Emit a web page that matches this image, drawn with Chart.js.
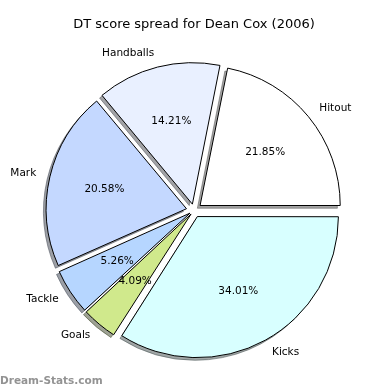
<!DOCTYPE html>
<html>
<head>
<meta charset="utf-8">
<script src="https://cdn.jsdelivr.net/npm/chart.js@4"></script>
<style>
  body { margin: 0; background: #fff; }
  #wrap { width: 390px; height: 390px; }
</style>
</head>
<body>
<div id="wrap"><canvas id="pieChart" width="390" height="390"></canvas></div>
<script>
// slices go clockwise from 3 o'clock here (the original went counter-clockwise)
let labels = ["Kicks", "Goals", "Tackle", "Mark", "Handballs", "Hitout"];
let pct = [34.01, 4.09, 5.26, 20.58, 14.21, 21.85];
let colors = ["#d8ffff", "#d0e98c", "#b6d6ff", "#c4d8ff", "#e9f0ff", "#ffffff"];

let FONT = '"DejaVu Sans", sans-serif';
let PUSH = 8;      // how far every slice is pulled out (px)
let total = pct.reduce((a, b) => a + b, 0);

// chart.js moves an arc by offset/4 * (1 + fix), so work back from the push we want
function fixOf(circ) {
  return 1 - Math.sin(Math.min(Math.PI, circ));
}
function pushOf(arc) {
  return (arc.options.offset || 0) / 4 * (1 + fixOf(arc.circumference));
}

// darker, half transparent copy of the slice colour (like the old matplotlib shadow)
function shade(hex) {
  let n = parseInt(hex.slice(1), 16);
  let r = Math.round(((n >> 16) & 255) * 0.3);
  let g = Math.round(((n >> 8) & 255) * 0.3);
  let b = Math.round((n & 255) * 0.3);
  return "rgba(" + r + "," + g + "," + b + ",0.5)";
}

// shadows go under all the slices
const shadowPlugin = {
  id: "shadows",
  beforeDatasetsDraw(chart) {
    let ctx = chart.ctx;
    let arcs = chart.getDatasetMeta(0).data;
    ctx.save();
    ctx.lineWidth = 1;
    arcs.forEach((a, i) => {
      let mid = (a.startAngle + a.endAngle) / 2;
      let d = pushOf(a);
      let x = a.x + Math.cos(mid) * d - 2.8;
      let y = a.y + Math.sin(mid) * d + 2.8;
      ctx.beginPath();
      ctx.moveTo(x, y);
      ctx.arc(x, y, a.outerRadius, a.startAngle, a.endAngle);
      ctx.closePath();
      ctx.fillStyle = shade(colors[i]);
      ctx.strokeStyle = shade(colors[i]);
      ctx.fill();
      ctx.stroke();
    });
    ctx.restore();
  }
};

// names outside, percentages inside
const textPlugin = {
  id: "sliceText",
  afterDatasetsDraw(chart) {
    let ctx = chart.ctx;
    let arcs = chart.getDatasetMeta(0).data;
    ctx.save();
    ctx.font = "10.5px " + FONT;
    ctx.fillStyle = "#000";
    ctx.textBaseline = "middle";
    arcs.forEach((a, i) => {
      let mid = (a.startAngle + a.endAngle) / 2;
      let d = pushOf(a);
      let cos = Math.cos(mid), sin = Math.sin(mid);
      let r = a.outerRadius;

      ctx.textAlign = cos > 0 ? "left" : "right";
      ctx.fillText(labels[i], a.x + cos * (d + 1.1 * r), a.y + sin * (d + 1.1 * r));

      ctx.textAlign = "center";
      ctx.fillText(pct[i].toFixed(2) + "%", a.x + cos * (d + 0.6 * r), a.y + sin * (d + 0.6 * r));
    });

    // site mark, bottom left
    ctx.font = "bold 10.5px " + FONT;
    ctx.fillStyle = "#939393";
    ctx.textAlign = "left";
    ctx.textBaseline = "alphabetic";
    ctx.fillText("Dream-Stats.com", 0, 384);
    ctx.restore();
  }
};

new Chart(document.getElementById("pieChart"), {
  type: "pie",
  data: {
    labels: labels,
    datasets: [{
      data: pct,
      backgroundColor: colors,
      borderColor: "#000",
      borderWidth: 1,
      clip: false,
      offset: (c) => {
        let circ = pct[c.dataIndex] / total * Math.PI * 2;
        return 4 * PUSH / (1 + fixOf(circ));
      }
    }]
  },
  options: {
    responsive: false,
    animation: false,
    events: [],
    rotation: 90,
    radius: 140,
    layout: { padding: { top: 0, left: 0, right: 2, bottom: 1.8 } },
    plugins: {
      legend: { display: false },
      tooltip: { enabled: false },
      title: {
        display: true,
        text: "DT score spread for Dean Cox (2006)",
        color: "#000",
        font: { family: FONT, size: 13, weight: "normal" },
        padding: { top: 17.2, bottom: 0 }
      }
    }
  },
  plugins: [shadowPlugin, textPlugin]
});
</script>
</body>
</html>
